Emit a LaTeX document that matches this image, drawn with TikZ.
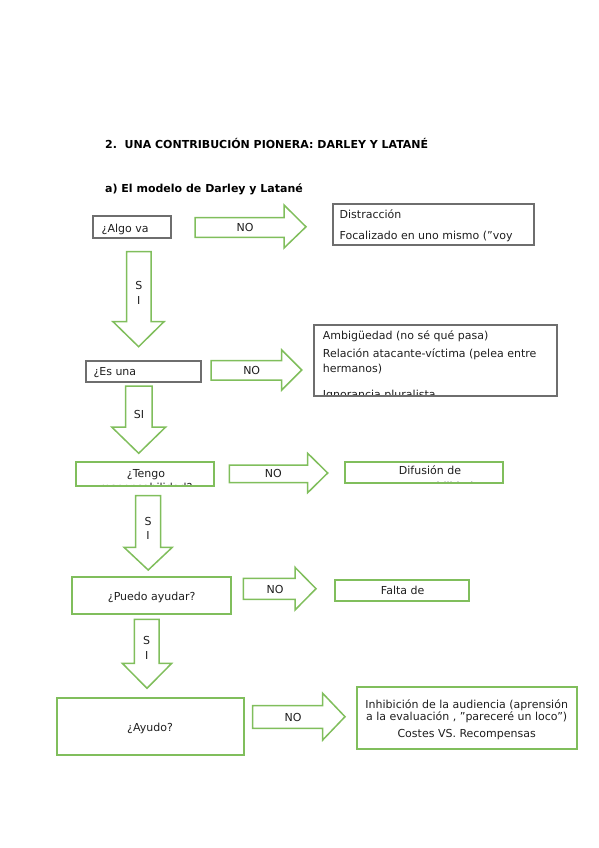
\documentclass[tikz,border=0pt]{standalone}
\usepackage{fontspec}
\setmainfont{DejaVu Sans}[Ligatures=ResetAll]
\definecolor{gr}{RGB}{128,190,92}
\definecolor{gy}{RGB}{110,110,110}
\definecolor{tx}{RGB}{30,30,30}
\begin{document}
\begin{tikzpicture}[x=1pt,y=-1pt,
  gbox/.style={draw=gy, line width=1.3pt, inner sep=0pt},
  grbox/.style={draw=gr, line width=1.5pt, inner sep=0pt},
  blk/.style={draw=gr, line width=1.5pt, fill=white, line join=miter},
  txt/.style={inner sep=0pt, text=tx, font=\fontsize{11}{13}\selectfont},
  head/.style={inner sep=0pt, text=black, font=\bfseries\fontsize{11}{13}\selectfont, anchor=base west}]
\useasboundingbox (0,0) rectangle (599,848);

% headings
\node[head] (title) at (105,149) {2.\ \ UNA CONTRIBUCIÓN PIONERA: DARLEY Y LATANÉ};
\node[head] (sub) at (105,192) {a) El modelo de Darley y Latané};

% ---------- row 1
\node[gbox, minimum width=78pt, minimum height=22pt] (b1) at (132,227) {};
\node[txt, anchor=base west] (b1t) at (101.5,232) {¿Algo va};
\node[gbox, minimum width=201pt, minimum height=41pt] (d1) at (433.5,224.5) {};
\node[txt, anchor=base west] (d1a) at (339.5,218) {Distracción};
\node[txt, anchor=base west] (d1b) at (339.5,239.5) {Focalizado en uno mismo ("voy};
\draw[blk] (195,217.5) -- (284,217.5) -- (284,205) -- (306,226.8) -- (284,248) -- (284,237.3) -- (195,237.3) -- cycle;
\node[txt] (no1) at (245,227.5) {NO};
\draw[blk] (126.7,251.7) -- (151,251.7) -- (151,321.7) -- (164,321.7) -- (138.6,346.7) -- (113,321.7) -- (126.7,321.7) -- cycle;
\node[txt] (si1a) at (138.8,285.7) {S};
\node[txt] (si1b) at (138.8,300.7) {I};

% ---------- row 2
\node[gbox, minimum width=115pt, minimum height=21pt] (b2) at (143.5,371.5) {};
\node[txt, anchor=base west] (b2t) at (93.3,375.5) {¿Es una};
\begin{scope}
  \clip (314,325) rectangle (557,395.3);
  \node[txt, anchor=base west] (d2a) at (322.7,339) {Ambigüedad (no sé qué pasa)};
  \node[txt, anchor=base west] (d2b) at (322.7,357.3) {Relación atacante-víctima (pelea entre};
  \node[txt, anchor=base west] (d2c) at (322.7,372.3) {hermanos)};
  \node[txt, anchor=base west] (d2d) at (322.7,398.8) {Ignorancia pluralista};
\end{scope}
\node[gbox, minimum width=243pt, minimum height=71pt] (d2) at (435.5,360.5) {};
\draw[blk] (211,360.7) -- (281.7,360.7) -- (281.7,350) -- (301.7,370) -- (281.7,390) -- (281.7,380) -- (211,380) -- cycle;
\node[txt] (no2) at (251.7,370.5) {NO};
\draw[blk] (125.7,386) -- (152,386) -- (152,427) -- (165.7,427) -- (138.7,453.3) -- (111.7,427) -- (125.7,427) -- cycle;
\node[txt] (si2) at (139,414) {SI};

% ---------- row 3
\begin{scope}
  \clip (76,462) rectangle (214,485.2);
  \node[txt, anchor=base] (b3a) at (146,477) {¿Tengo};
  \node[txt, anchor=base] (b3b) at (146,491.5) {responsabilidad?};
\end{scope}
\node[grbox, minimum width=138pt, minimum height=24pt] (b3) at (145,474) {};
\begin{scope}
  \clip (345,462) rectangle (503,482.3);
  \node[txt, anchor=base] (d3a) at (430,474) {Difusión de};
  \node[txt, anchor=base] (d3b) at (430,490.5) {responsabilidad};
\end{scope}
\node[grbox, minimum width=158pt, minimum height=21pt] (d3) at (424,472.5) {};
\draw[blk] (229.3,465) -- (307.7,465) -- (307.7,453.3) -- (327.7,473) -- (307.7,492.7) -- (307.7,482.7) -- (229.3,482.7) -- cycle;
\node[txt] (no3) at (273.3,473.5) {NO};
\draw[blk] (135.7,495.7) -- (160.7,495.7) -- (160.7,547.3) -- (172.3,547.3) -- (148.2,570) -- (124,547.3) -- (135.7,547.3) -- cycle;
\node[txt] (si3a) at (148,521) {S};
\node[txt] (si3b) at (148,535) {I};

% ---------- row 4
\node[grbox, minimum width=159pt, minimum height=37pt] (b4) at (151.5,595.5) {};
\node[txt, anchor=base] (b4t) at (151.7,600.5) {¿Puedo ayudar?};
\node[grbox, minimum width=134pt, minimum height=21pt] (d4) at (402,590.5) {};
\node[txt, anchor=base] (d4t) at (402.7,594.5) {Falta de};
\draw[blk] (243.3,578.3) -- (295,578.3) -- (295,567.3) -- (316,588.7) -- (295,610) -- (295,599.3) -- (243.3,599.3) -- cycle;
\node[txt] (no4) at (275,589) {NO};
\draw[blk] (134.3,619.3) -- (159,619.3) -- (159,663.3) -- (171.7,663.3) -- (147,688.3) -- (122.3,663.3) -- (134.3,663.3) -- cycle;
\node[txt] (si4a) at (146.7,640) {S};
\node[txt] (si4b) at (146.7,655) {I};

% ---------- row 5
\node[grbox, minimum width=187pt, minimum height=57pt] (b5) at (150.5,726.5) {};
\node[txt, anchor=base] (b5t) at (150,731.5) {¿Ayudo?};
\node[grbox, minimum width=220pt, minimum height=62pt] (d5) at (467,718) {};
\node[txt, anchor=base] (d5a) at (466.7,708) {Inhibición de la audiencia (aprensión};
\node[txt, anchor=base] (d5b) at (466.7,720) {a la evaluación , "pareceré un loco")};
\node[txt, anchor=base] (d5c) at (466.7,737) {Costes VS. Recompensas};
\draw[blk] (252.7,705.7) -- (322.7,705.7) -- (322.7,693.3) -- (345,716.7) -- (322.7,740) -- (322.7,728.3) -- (252.7,728.3) -- cycle;
\node[txt] (no5) at (293,717) {NO};
\end{tikzpicture}
\end{document}
